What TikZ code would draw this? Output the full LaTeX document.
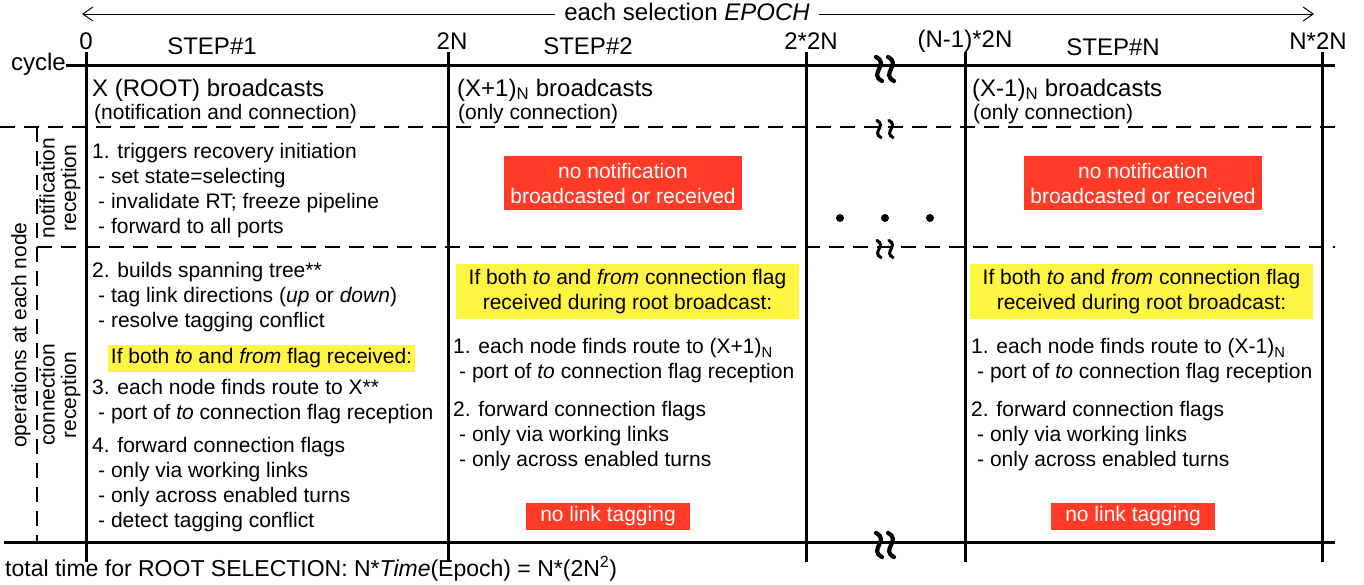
\documentclass[tikz,border=0pt]{standalone}
\usepackage{fontspec}
\setmainfont{Liberation Sans}
\usetikzlibrary{arrows.meta}
\definecolor{rojo}{RGB}{255,59,40}
\definecolor{amarillo}{RGB}{255,245,66}

\begin{document}
\begin{tikzpicture}[x=1pt,y=-1pt,
	texto/.style={font=\fontsize{21}{25}\selectfont, inner sep=0pt, anchor=west, align=left},
	grande/.style={font=\fontsize{24}{28}\selectfont, inner sep=0pt},
	lateral/.style={font=\fontsize{21}{21.5}\selectfont, inner sep=0pt, align=center, rotate=90},
	caja/.style={fill=rojo, text=white, font=\fontsize{21}{25}\selectfont, inner sep=0pt, align=center},
	aviso/.style={fill=amarillo, font=\fontsize{21}{25}\selectfont, inner sep=0pt, align=center},
	linea/.style={line width=3pt},
	guion/.style={line width=2pt, dash pattern=on 15pt off 9pt}]
		\useasboundingbox (0,0) rectangle (1364,584);
		
		% epoch
		\coordinate (ini) at (82,14);
		\coordinate (fin) at (1314,14);
		\draw[{Straight Barb[length=10pt,width=14pt]}-{Straight Barb[length=10pt,width=14pt]}, line width=1pt] (ini) -- (fin);
		\node[grande, fill=white, inner xsep=9pt] (epoch) at (687,12) {each selection \textit{EPOCH}};
		
		% marcas
		\node[grande] (t0) at (86,41) {0};
		\node[grande] (t1) at (452,41) {2N};
		\node[grande] (t2) at (811,41) {2*2N};
		\node[grande] (t3) at (965,41) {(N-1)*2N};
		\node[grande] (t4) at (1318,41) {N*2N};
		\node[grande] (p1) at (212,46) {STEP\#1};
		\node[grande] (p2) at (588,46) {STEP\#2};
		\node[grande] (pn) at (1113,47) {STEP\#N};
		
		% columnas
		\foreach \x in {86,448,806,965,1322}
			\draw[linea] (\x,52) -- (\x,562);
		
		% filas
		\node[grande, anchor=east] (ciclo) at (66,64) {cycle};
		\draw[linea] (ciclo.east |- 0,65) -- (1335,65);
		\draw[guion] (0,127) -- (1335,127);
		\draw[guion] (37,247) -- (1335,247);
		\draw[guion] (37,127) -- (37,542);
		\draw[linea] (4,542) -- (1335,542);
		
		% cortes
		\foreach \y/\s/\w in {69/1/4.2, 129/0.72/3, 249/0.72/3, 545/1/4.2}
			\foreach \x in {879,891}
				\draw[line width=\w pt, line cap=round] (\x-3*\s,\y-12*\s) .. controls (\x+11*\s,\y-5*\s) and (\x-11*\s,\y+5*\s) .. (\x+3*\s,\y+12*\s);
		\foreach \x in {840,885,930}
			\fill (\x,218) circle (4);
		
		% lateral
		\node[lateral] (ops) at (21,335) {operations at each node};
		\node[lateral] (notif) at (60,188) {notification\\reception};
		\node[lateral] (conex) at (60,395) {connection\\reception};
		
		% STEP#1
		\node[texto, font=\fontsize{24}{28}\selectfont] (h1) at (92,90) {X (ROOT) broadcasts};
		\node[texto] (s1) at (94,114) {(notification and connection)};
		\node[texto] (a1) at (92,190.5) {1. triggers recovery initiation\\\hspace*{6pt}- set state=selecting\\\hspace*{6pt}- invalidate RT; freeze pipeline\\\hspace*{6pt}- forward to all ports};
		\node[texto] (a2) at (92,297.5) {2. builds spanning tree**\\\hspace*{6pt}- tag link directions (\textit{up} or \textit{down})\\\hspace*{6pt}- resolve tagging conflict};
		\node[aviso, minimum width=307, minimum height=27] (y1) at (261.5,358.5) {If both \textit{to} and \textit{from} flag received:};
		\node[texto] (a3) at (92,401.5) {3. each node finds route to X**\\\hspace*{6pt}- port of \textit{to} connection flag reception};
		\node[texto] (a4) at (92,484.5) {4. forward connection flags\\\hspace*{6pt}- only via working links\\\hspace*{6pt}- only across enabled turns\\\hspace*{6pt}- detect tagging conflict};
		
		% STEP#2
		\node[texto, font=\fontsize{24}{28}\selectfont] (h2) at (457,90) {(X+1)\textsubscript{N} broadcasts};
		\node[texto] (s2) at (458,114) {(only connection)};
		\node[caja, minimum width=238, minimum height=54] (r2) at (623,183) {no notification\\broadcasted or received};
		\node[aviso, minimum width=343, minimum height=55] (y2) at (627.5,291.5) {If both \textit{to} and \textit{from} connection flag\\received during root broadcast:};
		\node[texto] (b1) at (453,361) {1. each node finds route to (X+1)\textsubscript{N}\\\hspace*{6pt}- port of \textit{to} connection flag reception};
		\node[texto] (b2) at (453,436) {2. forward connection flags\\\hspace*{6pt}- only via working links\\\hspace*{6pt}- only across enabled turns};
		\node[caja, minimum width=164, minimum height=27] (l2) at (608,516.5) {no link tagging};
		
		% STEP#N
		\node[texto, font=\fontsize{24}{28}\selectfont] (hn) at (972,90) {(X-1)\textsubscript{N} broadcasts};
		\node[texto] (sn) at (973,114) {(only connection)};
		\node[caja, minimum width=238, minimum height=54] (rn) at (1143,183) {no notification\\broadcasted or received};
		\node[aviso, minimum width=343, minimum height=55] (yn) at (1141.5,291.5) {If both \textit{to} and \textit{from} connection flag\\received during root broadcast:};
		\node[texto] (c1) at (971,361) {1. each node finds route to (X-1)\textsubscript{N}\\\hspace*{6pt}- port of \textit{to} connection flag reception};
		\node[texto] (c2) at (971,436) {2. forward connection flags\\\hspace*{6pt}- only via working links\\\hspace*{6pt}- only across enabled turns};
		\node[caja, minimum width=164, minimum height=27] (ln) at (1133,516.5) {no link tagging};
		
		% total
		\node[texto, font=\fontsize{23}{27}\selectfont] (total) at (5,569) {total time for ROOT SELECTION: N*\textit{Time}(Epoch) = N*(2N\textsuperscript{2})};
	\end{tikzpicture}
\end{document}
